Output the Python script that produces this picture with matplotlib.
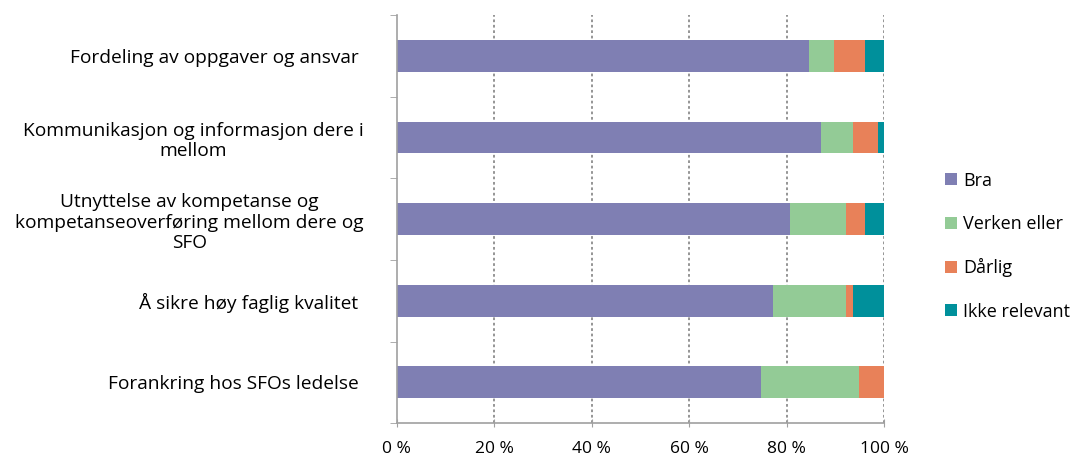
import matplotlib.pyplot as plt
import numpy as np

categories = [
    "Fordeling av oppgaver og ansvar ",
    "Kommunikasjon og informasjon dere i\nmellom",
    "Utnyttelse av kompetanse og\nkompetanseoverføring mellom dere og\nSFO",
    "Å sikre høy faglig kvalitet ",
    "Forankring hos SFOs ledelse ",
]
series_names = ["Bra", "Verken eller", "Dårlig", "Ikke relevant"]
bra = [84.6, 87.1, 80.7, 77.3, 74.7]
verken = [5.1, 6.5, 11.6, 15.0, 20.2]
darlig = [6.5, 5.2, 3.9, 1.3, 5.1]
ikke = [3.8, 1.2, 3.8, 6.4, 0.0]
colors = ["#7f7fb3", "#93cb96", "#e88159", "#00909b"]

plt.rcParams['font.family'] = ['Open Sans', 'DejaVu Sans']

fig = plt.figure(figsize=(10.84, 4.59), dpi=100)
ax = fig.add_axes([0.366, 0.078, 0.4495, 0.889])

y = np.arange(len(categories))
left = np.zeros(len(categories))
for name, vals, c in zip(series_names, [bra, verken, darlig, ikke], colors):
    ax.barh(y, vals, left=left, height=0.39, color=c, label=name)
    left += np.array(vals)

ax.set_xlim(0, 100)
ax.set_ylim(len(categories) - 0.5, -0.5)
ax.set_xticks(np.arange(0, 101, 20))
ax.set_xticklabels([f"{v} %" for v in range(0, 101, 20)], fontsize=12.5)
ax.set_yticks(y)
ax.set_yticklabels(categories, fontsize=13.8)
for lab in ax.get_yticklabels():
    lab.set_multialignment('center')
ax.set_yticks(np.arange(-0.5, len(categories)), minor=True)
ax.tick_params(axis='y', which='major', length=0, pad=24)
ax.tick_params(axis='y', which='minor', length=5, color='#a0a0a0', direction='out')
ax.tick_params(axis='x', length=6, color='#a0a0a0', direction='inout', pad=10)

for v in range(20, 101, 20):
    ax.axvline(v, color='#8c8c8c', linestyle=(0, (1.5, 1.5)), linewidth=1.3, zorder=0)

for s in ['top', 'right']:
    ax.spines[s].set_visible(False)
ax.spines['left'].set_color('#a0a0a0')
ax.spines['bottom'].set_color('#a0a0a0')
ax.spines['left'].set_linewidth(1.2)
ax.spines['bottom'].set_linewidth(1.2)

ax.legend(loc='center left', bbox_to_anchor=(1.11, 0.434), frameon=False,
          fontsize=13, handlelength=0.65, handleheight=0.65, handletextpad=0.35,
          labelspacing=1.4, borderaxespad=0)

fig.savefig("out.png", dpi=100)
